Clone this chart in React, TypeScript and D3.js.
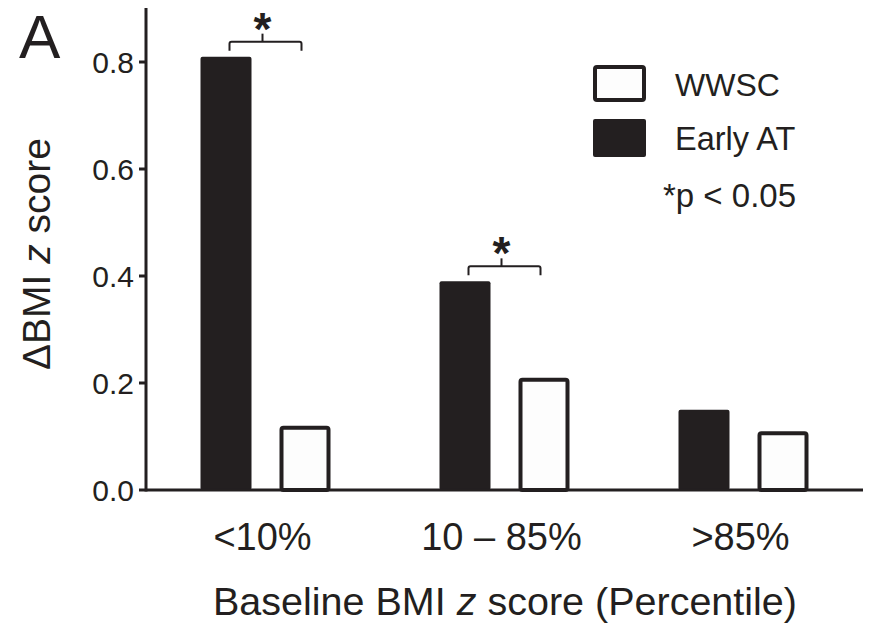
import React from "react";
import * as d3 from "d3";

const categories = ["<10%", "10 – 85%", ">85%"];
const earlyAT = [0.81, 0.39, 0.15];
const wwsc = [0.12, 0.21, 0.11];
const yTicks = [0.0, 0.2, 0.4, 0.6, 0.8];
const significant = [true, true, false];

const ink = "#231f20";
const font = "Liberation Sans, Arial, Helvetica, sans-serif";

export default function App() {
  const width = 877;
  const height = 624;
  const margin = { top: 8, right: 14, bottom: 134, left: 146 };

  const x = d3.scaleBand<string>()
    .domain(categories)
    .range([margin.left, width - margin.right]);

  const y = d3.scaleLinear()
    .domain([0, 0.8])
    .range([height - margin.bottom, 62]);

  const barW = 51;
  const inner = 14;
  const y0 = y(0);

  return (
    <svg width={width} height={height} style={{ position: "absolute", left: 0, top: 0, background: "#fff" }}
      fontFamily={font}>
      {/* panel letter */}
      <text x={19} y={58} fontSize={62} fill={ink}>A</text>

      {/* bars */}
      {categories.map((c, i) => {
        const cx = x(c)! + x.bandwidth() / 2;
        return (
          <g key={c}>
            <rect x={cx - inner - barW} y={y(earlyAT[i])} width={barW} height={y0 - y(earlyAT[i])}
              fill={ink} rx={2} />
            <rect x={cx + inner + 2} y={y(wwsc[i]) + 2} width={barW - 4} height={y0 - y(wwsc[i]) - 2}
              fill="#fdfdfd" stroke={ink} strokeWidth={4} rx={2} />
          </g>
        );
      })}

      {/* significance brackets */}
      {categories.map((c, i) => {
        if (!significant[i]) return null;
        const cx = x(c)! + x.bandwidth() / 2;
        const top = y(earlyAT[i]) - 15;
        const l = cx - 36, r = cx + 36, m = cx - 3;
        return (
          <g key={"sig" + c} fill="none" stroke={ink} strokeWidth={2}>
            <path d={`M${l},${top + 9} L${l},${top + 2} Q${l},${top} ${l + 2},${top} L${r - 2},${top} Q${r},${top} ${r},${top + 2} L${r},${top + 9}`} />
            <path d={`M${m},${top} L${m},${top - 8}`} />
            <text x={m} y={top + 3} textAnchor="middle" fontSize={46} fontWeight="bold" fill={ink} stroke="none">*</text>
          </g>
        );
      })}

      {/* y axis */}
      <line x1={margin.left} x2={margin.left} y1={margin.top} y2={y0 + 1.5} stroke={ink} strokeWidth={3} />
      {yTicks.map(t => (
        <g key={t}>
          <line x1={margin.left - 7} x2={margin.left} y1={y(t)} y2={y(t)} stroke={ink} strokeWidth={3} />
          <text x={margin.left - 12} y={y(t) + 11} textAnchor="end" fontSize={30} fill={ink}>{t.toFixed(1)}</text>
        </g>
      ))}

      {/* x axis */}
      <line x1={margin.left} x2={width - margin.right} y1={y0} y2={y0} stroke={ink} strokeWidth={3} />
      {categories.map(c => (
        <text key={"lab" + c} x={x(c)! + x.bandwidth() / 2 - 3} y={550} textAnchor="middle" fontSize={38} fill={ink}>{c}</text>
      ))}

      {/* axis titles */}
      <text x={505} y={615} textAnchor="middle" fontSize={39.5} fill={ink}>
        Baseline BMI <tspan fontStyle="italic">z</tspan> score (Percentile)
      </text>
      <text transform={`translate(50,254) rotate(-90)`} textAnchor="middle" fontSize={39} fill={ink}>
        ΔBMI <tspan fontStyle="italic">z</tspan> score
      </text>

      {/* legend */}
      <rect x={595} y={67} width={49} height={33} fill="#fdfdfd" stroke={ink} strokeWidth={4} rx={2} />
      <text x={675} y={96} fontSize={32} fill={ink}>WWSC</text>
      <rect x={593} y={119} width={53} height={38} fill={ink} rx={2} />
      <text x={675} y={150} fontSize={32.5} fill={ink}>Early AT</text>
      <text x={663} y={207} fontSize={33} fill={ink}>*p &lt; 0.05</text>
    </svg>
  );
}
